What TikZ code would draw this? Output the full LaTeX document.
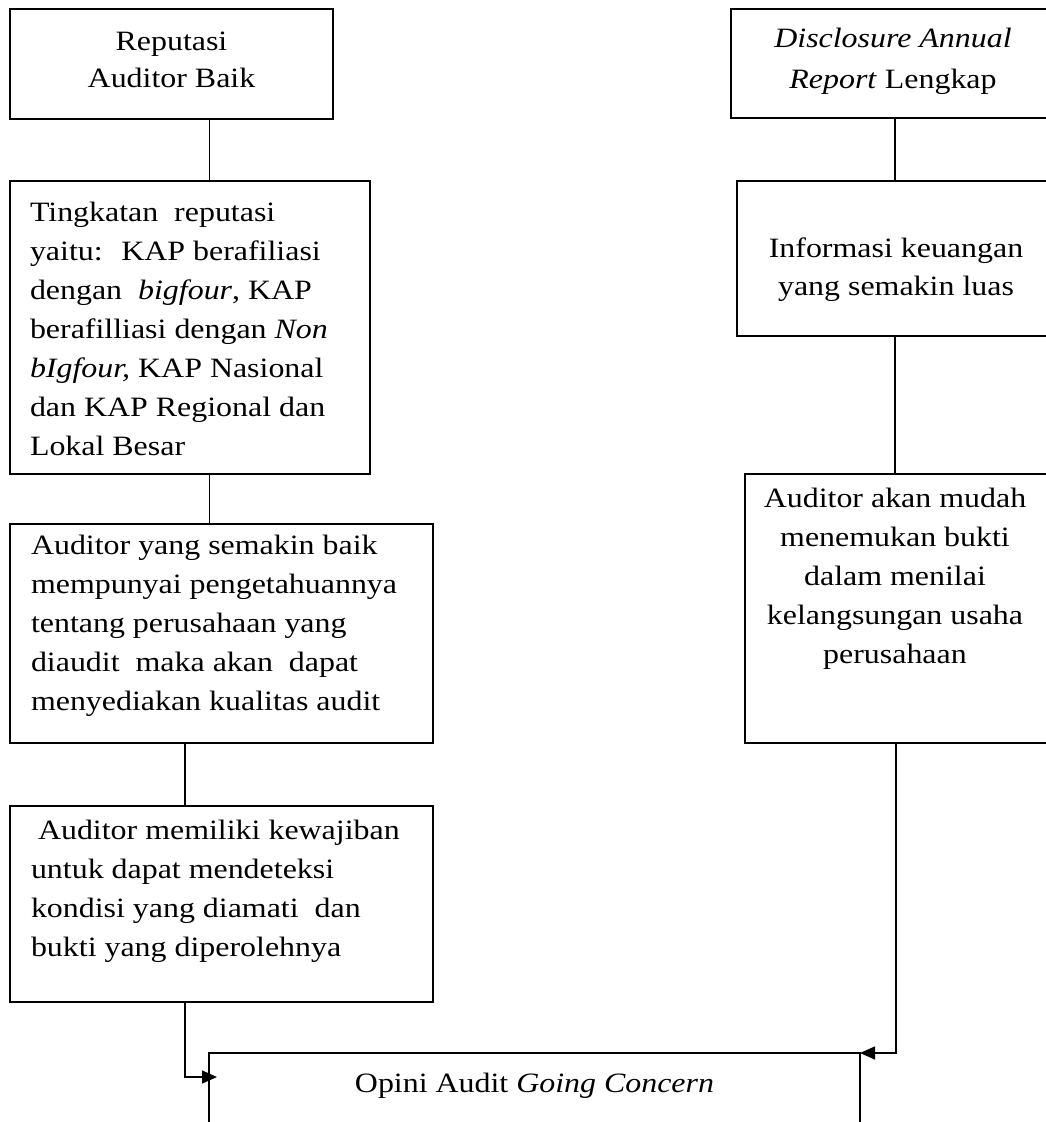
\documentclass[tikz,border=0pt]{standalone}
\usepackage{fontspec}
\setmainfont{Liberation Serif}[FakeStretch=1.14]
\usetikzlibrary{arrows.meta}
\begin{document}
\begin{tikzpicture}[x=1pt,y=-1pt,
  boxnode/.style={draw=black, line width=2pt, rectangle, inner sep=0pt, outer sep=0pt},
  txt/.style={inner sep=0pt, outer sep=0pt, font=\fontsize{28}{39}\selectfont},
  link/.style={draw=black, line width=1.4pt},
  arr/.style={link, -{Triangle[length=15pt,width=13pt]}}]
\useasboundingbox (0,0) rectangle (1046,1122);
\clip (0,0) rectangle (1046,1122);
% boxes
\node[boxnode, minimum width=323pt, minimum height=110pt] (b1) at (171.5,64) {};
\node[boxnode, minimum width=329pt, minimum height=109pt] (b2) at (895.5,63.5) {};
\node[boxnode, minimum width=360pt, minimum height=293pt] (b3) at (189.5,327.5) {};
\node[boxnode, minimum width=323pt, minimum height=155pt] (b4) at (898.5,258.5) {};
\node[boxnode, minimum width=423pt, minimum height=219pt] (b5) at (221,633.5) {};
\node[boxnode, minimum width=315pt, minimum height=269pt] (b6) at (902.5,608.5) {};
\node[boxnode, minimum width=423pt, minimum height=196pt] (b7) at (221,904) {};
\node[boxnode, minimum width=651pt, minimum height=97pt] (b8) at (534.5,1101.5) {};
% texts
\node[txt, anchor=base] (t1) at (171.5,50) {\parbox[t]{400pt}{\fontsize{28}{37}\selectfont\centering Reputasi\\Auditor Baik}};
\node[txt, anchor=base] (t2) at (893,47) {\parbox[t]{400pt}{\fontsize{28}{41}\selectfont\centering \textit{Disclosure Annual}\\\textit{Report} Lengkap}};
\node[txt, anchor=base west] (t3) at (30,221.7) {\parbox[t]{420pt}{\raggedright Tingkatan~ reputasi\\yaitu:~ KAP berafiliasi\\dengan~ \textit{bigfour}, KAP\\berafilliasi dengan \textit{Non}\\\textit{bIgfour,} KAP Nasional\\dan KAP Regional dan\\Lokal Besar}};
\node[txt, anchor=base] (t4) at (896,257) {\parbox[t]{400pt}{\fontsize{28}{38}\selectfont\centering Informasi keuangan\\yang semakin luas}};
\node[txt, anchor=base west] (t5) at (31,554) {\parbox[t]{450pt}{\raggedright Auditor yang semakin baik\\mempunyai pengetahuannya\\tentang perusahaan yang\\diaudit~ maka akan~ dapat\\menyediakan kualitas audit}};
\node[txt, anchor=base] (t6) at (895,507) {\parbox[t]{400pt}{\centering Auditor akan mudah\\menemukan bukti\\dalam menilai\\kelangsungan usaha\\perusahaan}};
\node[txt, anchor=base west] (t7) at (31,839) {\parbox[t]{450pt}{\raggedright \hspace*{0.25em}Auditor memiliki kewajiban\\untuk dapat mendeteksi\\kondisi yang diamati~ dan\\bukti yang diperolehnya}};
\node[txt, anchor=base] (t8) at (534.5,1092) {Opini Audit \textit{Going Concern}};
% connector guides
\coordinate (cA) at (209.5,0);
\coordinate (cB) at (185,0);
\coordinate (cC) at (895,0);
\coordinate (cD) at (896,0);
\coordinate (aL) at (217,1077);
% connectors
\draw[link] (b1.south -| cA) -- (b3.north -| cA);
\draw[link] (b3.south -| cA) -- (b5.north -| cA);
\draw[link] (b5.south -| cB) -- (b7.north -| cB);
\draw[arr] (b7.south -| cB) |- (aL);
\draw[link] (b2.south -| cC) -- (b4.north -| cC);
\draw[link] (b4.south -| cC) -- (b6.north -| cC);
\draw[arr] (b6.south -| cD) |- (b8.north east);
\end{tikzpicture}
\end{document}
